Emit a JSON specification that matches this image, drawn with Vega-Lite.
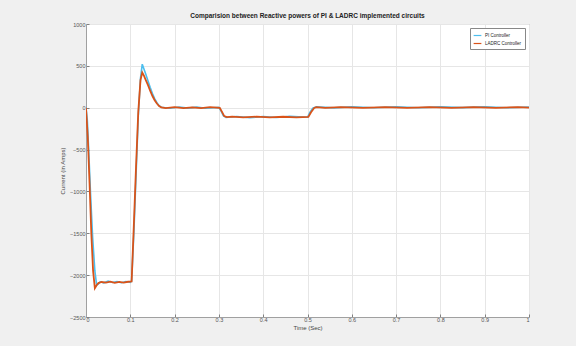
{
  "$schema": "https://vega.github.io/schema/vega-lite/v6.json",
  "autosize": {"type": "none"},
  "padding": {"left": 86, "top": 24, "right": 47, "bottom": 29},
  "width": 443,
  "height": 293,
  "background": "#f0f0f0",
  "title": {"text": "Comparision between Reactive powers of PI & LADRC implemented circuits", "fontSize": 6.5, "fontWeight": "bold", "font": "Liberation Sans", "color": "#222222", "offset": 3},
  "config": {
    "view": {"fill": "white", "stroke": "#a0a0a0", "strokeWidth": 1},
    "axis": {"labelFont": "Liberation Sans", "titleFont": "Liberation Sans", "labelFontSize": 5.5, "titleFontSize": 6, "labelColor": "#555555", "titleColor": "#444444", "titleFontWeight": "normal", "gridColor": "#e6e6e6", "domainColor": "#a0a0a0", "tickColor": "#808080", "tickSize": -3}
  },
  "data": {"values": [
    {"t": 0, "v": 0, "s": "PI Controller"},
    {"t": 0.003, "v": -150, "s": "PI Controller"},
    {"t": 0.006, "v": -500, "s": "PI Controller"},
    {"t": 0.01, "v": -1000, "s": "PI Controller"},
    {"t": 0.015, "v": -1550, "s": "PI Controller"},
    {"t": 0.02, "v": -1950, "s": "PI Controller"},
    {"t": 0.024, "v": -2120, "s": "PI Controller"},
    {"t": 0.028, "v": -2105, "s": "PI Controller"},
    {"t": 0.032, "v": -2080, "s": "PI Controller"},
    {"t": 0.04, "v": -2092, "s": "PI Controller"},
    {"t": 0.05, "v": -2072, "s": "PI Controller"},
    {"t": 0.06, "v": -2088, "s": "PI Controller"},
    {"t": 0.07, "v": -2078, "s": "PI Controller"},
    {"t": 0.08, "v": -2090, "s": "PI Controller"},
    {"t": 0.09, "v": -2076, "s": "PI Controller"},
    {"t": 0.1, "v": -2086, "s": "PI Controller"},
    {"t": 0.103, "v": -2070, "s": "PI Controller"},
    {"t": 0.108, "v": -1500, "s": "PI Controller"},
    {"t": 0.113, "v": -800, "s": "PI Controller"},
    {"t": 0.118, "v": -100, "s": "PI Controller"},
    {"t": 0.123, "v": 350, "s": "PI Controller"},
    {"t": 0.127, "v": 520, "s": "PI Controller"},
    {"t": 0.131, "v": 460, "s": "PI Controller"},
    {"t": 0.135, "v": 400, "s": "PI Controller"},
    {"t": 0.14, "v": 320, "s": "PI Controller"},
    {"t": 0.145, "v": 240, "s": "PI Controller"},
    {"t": 0.15, "v": 170, "s": "PI Controller"},
    {"t": 0.155, "v": 110, "s": "PI Controller"},
    {"t": 0.16, "v": 60, "s": "PI Controller"},
    {"t": 0.165, "v": 25, "s": "PI Controller"},
    {"t": 0.17, "v": 6, "s": "PI Controller"},
    {"t": 0.19, "v": -6, "s": "PI Controller"},
    {"t": 0.21, "v": 8, "s": "PI Controller"},
    {"t": 0.23, "v": -5, "s": "PI Controller"},
    {"t": 0.25, "v": 7, "s": "PI Controller"},
    {"t": 0.27, "v": -7, "s": "PI Controller"},
    {"t": 0.3, "v": 4, "s": "PI Controller"},
    {"t": 0.305, "v": -40, "s": "PI Controller"},
    {"t": 0.31, "v": -95, "s": "PI Controller"},
    {"t": 0.316, "v": -115, "s": "PI Controller"},
    {"t": 0.34, "v": -105, "s": "PI Controller"},
    {"t": 0.37, "v": -118, "s": "PI Controller"},
    {"t": 0.4, "v": -106, "s": "PI Controller"},
    {"t": 0.43, "v": -117, "s": "PI Controller"},
    {"t": 0.46, "v": -104, "s": "PI Controller"},
    {"t": 0.5, "v": -114, "s": "PI Controller"},
    {"t": 0.505, "v": -60, "s": "PI Controller"},
    {"t": 0.512, "v": -5, "s": "PI Controller"},
    {"t": 0.52, "v": 10, "s": "PI Controller"},
    {"t": 0.56, "v": -2, "s": "PI Controller"},
    {"t": 0.6, "v": 11, "s": "PI Controller"},
    {"t": 0.65, "v": 0, "s": "PI Controller"},
    {"t": 0.7, "v": 12, "s": "PI Controller"},
    {"t": 0.75, "v": -1, "s": "PI Controller"},
    {"t": 0.8, "v": 10, "s": "PI Controller"},
    {"t": 0.85, "v": 1, "s": "PI Controller"},
    {"t": 0.9, "v": 11, "s": "PI Controller"},
    {"t": 0.95, "v": 0, "s": "PI Controller"},
    {"t": 1, "v": 8, "s": "PI Controller"},
    {"t": 0, "v": 0, "s": "LADRC Controller"},
    {"t": 0.004, "v": -350, "s": "LADRC Controller"},
    {"t": 0.008, "v": -900, "s": "LADRC Controller"},
    {"t": 0.012, "v": -1500, "s": "LADRC Controller"},
    {"t": 0.016, "v": -1950, "s": "LADRC Controller"},
    {"t": 0.02, "v": -2155, "s": "LADRC Controller"},
    {"t": 0.024, "v": -2120, "s": "LADRC Controller"},
    {"t": 0.028, "v": -2095, "s": "LADRC Controller"},
    {"t": 0.035, "v": -2082, "s": "LADRC Controller"},
    {"t": 0.045, "v": -2090, "s": "LADRC Controller"},
    {"t": 0.055, "v": -2078, "s": "LADRC Controller"},
    {"t": 0.065, "v": -2092, "s": "LADRC Controller"},
    {"t": 0.075, "v": -2080, "s": "LADRC Controller"},
    {"t": 0.085, "v": -2089, "s": "LADRC Controller"},
    {"t": 0.095, "v": -2079, "s": "LADRC Controller"},
    {"t": 0.103, "v": -2075, "s": "LADRC Controller"},
    {"t": 0.108, "v": -1400, "s": "LADRC Controller"},
    {"t": 0.113, "v": -700, "s": "LADRC Controller"},
    {"t": 0.118, "v": -50, "s": "LADRC Controller"},
    {"t": 0.123, "v": 330, "s": "LADRC Controller"},
    {"t": 0.127, "v": 420, "s": "LADRC Controller"},
    {"t": 0.131, "v": 380, "s": "LADRC Controller"},
    {"t": 0.135, "v": 330, "s": "LADRC Controller"},
    {"t": 0.14, "v": 270, "s": "LADRC Controller"},
    {"t": 0.145, "v": 200, "s": "LADRC Controller"},
    {"t": 0.15, "v": 140, "s": "LADRC Controller"},
    {"t": 0.155, "v": 90, "s": "LADRC Controller"},
    {"t": 0.16, "v": 50, "s": "LADRC Controller"},
    {"t": 0.165, "v": 20, "s": "LADRC Controller"},
    {"t": 0.17, "v": 3, "s": "LADRC Controller"},
    {"t": 0.18, "v": -5, "s": "LADRC Controller"},
    {"t": 0.2, "v": 6, "s": "LADRC Controller"},
    {"t": 0.22, "v": -6, "s": "LADRC Controller"},
    {"t": 0.24, "v": 5, "s": "LADRC Controller"},
    {"t": 0.26, "v": -4, "s": "LADRC Controller"},
    {"t": 0.28, "v": 6, "s": "LADRC Controller"},
    {"t": 0.302, "v": -2, "s": "LADRC Controller"},
    {"t": 0.307, "v": -50, "s": "LADRC Controller"},
    {"t": 0.312, "v": -100, "s": "LADRC Controller"},
    {"t": 0.318, "v": -113, "s": "LADRC Controller"},
    {"t": 0.33, "v": -106, "s": "LADRC Controller"},
    {"t": 0.355, "v": -116, "s": "LADRC Controller"},
    {"t": 0.385, "v": -107, "s": "LADRC Controller"},
    {"t": 0.415, "v": -115, "s": "LADRC Controller"},
    {"t": 0.445, "v": -108, "s": "LADRC Controller"},
    {"t": 0.475, "v": -116, "s": "LADRC Controller"},
    {"t": 0.502, "v": -110, "s": "LADRC Controller"},
    {"t": 0.508, "v": -55, "s": "LADRC Controller"},
    {"t": 0.515, "v": -3, "s": "LADRC Controller"},
    {"t": 0.52, "v": 6, "s": "LADRC Controller"},
    {"t": 0.54, "v": -2, "s": "LADRC Controller"},
    {"t": 0.575, "v": 8, "s": "LADRC Controller"},
    {"t": 0.625, "v": -3, "s": "LADRC Controller"},
    {"t": 0.675, "v": 7, "s": "LADRC Controller"},
    {"t": 0.725, "v": -2, "s": "LADRC Controller"},
    {"t": 0.775, "v": 8, "s": "LADRC Controller"},
    {"t": 0.825, "v": -3, "s": "LADRC Controller"},
    {"t": 0.875, "v": 7, "s": "LADRC Controller"},
    {"t": 0.925, "v": -2, "s": "LADRC Controller"},
    {"t": 0.975, "v": 7, "s": "LADRC Controller"},
    {"t": 1, "v": 2, "s": "LADRC Controller"}
  ]},
  "encoding": {
    "x": {"field": "t", "type": "quantitative", "title": "Time (Sec)",
      "scale": {"domain": [0, 1], "nice": false},
      "axis": {"values": [0, 0.1, 0.2, 0.3, 0.4, 0.5, 0.6, 0.7, 0.8, 0.9, 1], "labelExpr": "datum.value == 0 ? '0' : datum.value == 1 ? '1' : format(datum.value, '.1f')", "titlePadding": 2, "labelPadding": 3}},
    "y": {"field": "v", "type": "quantitative", "title": "Current (in Amps)",
      "scale": {"domain": [-2500, 1000], "nice": false, "zero": false},
      "axis": {"values": [-2500, -2000, -1500, -1000, -500, 0, 500, 1000], "format": "d", "titlePadding": 4, "labelPadding": 4}},
    "color": {"field": "s", "type": "nominal",
      "scale": {"domain": ["PI Controller", "LADRC Controller"], "range": ["#4DBEEE", "#D95319"]},
      "legend": {"title": null, "orient": "top-right", "offset": 4, "symbolType": "stroke", "symbolStrokeWidth": 1.2, "symbolSize": 60, "symbolOpacity": 1, "labelFontSize": 4.5, "labelFont": "Liberation Sans", "labelColor": "#222222", "fillColor": "white", "strokeColor": "#888888", "padding": 3, "rowPadding": 1, "labelOffset": 3}}
  },
  "layer": [
    {"transform": [{"filter": "datum.s == 'PI Controller'"}], "mark": {"type": "line", "strokeWidth": 1.6, "clip": true}},
    {"transform": [{"filter": "datum.s == 'LADRC Controller'"}], "mark": {"type": "line", "strokeWidth": 1.8, "clip": true}}
  ]
}
